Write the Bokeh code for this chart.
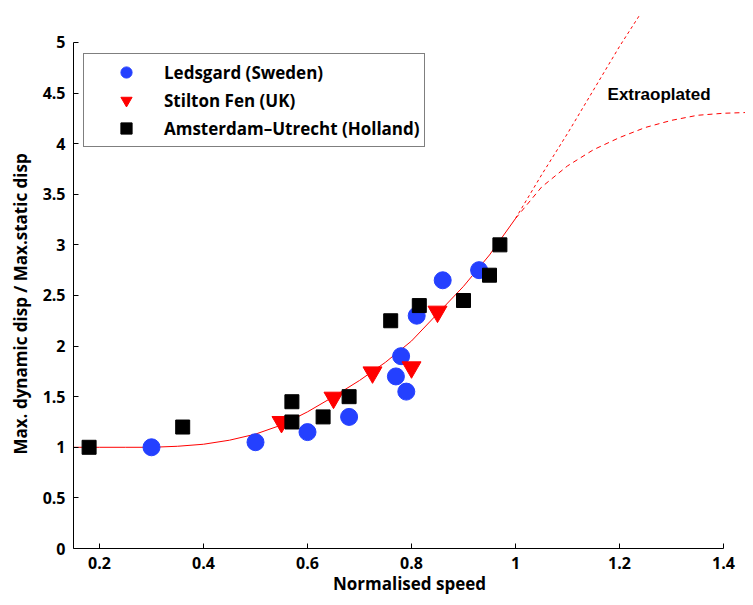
from bokeh.plotting import figure
from bokeh.models import Range1d, Legend, LegendItem, Label, FixedTicker, Title
from bokeh.embed import file_html
from bokeh.resources import INLINE

# ---- data ----
ledsgard_x = [0.30, 0.50, 0.60, 0.68, 0.77, 0.78, 0.79, 0.81, 0.86, 0.93]
ledsgard_y = [1.00, 1.05, 1.15, 1.30, 1.70, 1.90, 1.55, 2.30, 2.65, 2.75]

stilton_x = [0.55, 0.65, 0.725, 0.80, 0.85]
stilton_y = [1.25, 1.49, 1.74, 1.79, 2.34]

amsterdam_x = [0.18, 0.36, 0.57, 0.57, 0.63, 0.68, 0.76, 0.815, 0.90, 0.95, 0.97]
amsterdam_y = [1.00, 1.20, 1.45, 1.25, 1.30, 1.50, 2.25, 2.40, 2.45, 2.70, 3.00]

fit_x = [0.15, 0.20, 0.25, 0.30, 0.35, 0.40, 0.45, 0.50, 0.55, 0.60,
         0.65, 0.70, 0.75, 0.80, 0.85, 0.90, 0.95, 1.00]
fit_y = [1.00, 1.00, 1.00, 1.00, 1.01, 1.03, 1.07, 1.13, 1.22, 1.35,
         1.50, 1.66, 1.84, 2.05, 2.32, 2.59, 2.90, 3.26]

ext_upper_x = [1.00, 1.05, 1.10, 1.15, 1.20, 1.24]
ext_upper_y = [3.26, 3.69, 4.10, 4.53, 4.96, 5.28]

ext_lower_x = [1.00, 1.05, 1.10, 1.15, 1.20, 1.25, 1.30, 1.35, 1.40, 1.46]
ext_lower_y = [3.26, 3.57, 3.78, 3.94, 4.06, 4.16, 4.23, 4.28, 4.30, 4.31]

x_ticks = [0.2, 0.4, 0.6, 0.8, 1, 1.2, 1.4]
x_tick_labels = ["0.2", "0.4", "0.6", "0.8", "1", "1.2", "1.4"]
y_ticks = [0, 0.5, 1, 1.5, 2, 2.5, 3, 3.5, 4, 4.5, 5]
y_tick_labels = ["0", "0.5", "1", "1.5", "2", "2.5", "3", "3.5", "4", "4.5", "5"]

series_names = ["Ledsgard (Sweden)", "Stilton Fen (UK)", "Amsterdam\u2013Utrecht (Holland)"]
x_label = "Normalised speed"
y_label = "Max. dynamic disp / Max.static disp"
note_text = "Extraoplated"

FONT = "Open Sans"

p = figure(width=745, height=597, output_backend="svg", toolbar_location=None,
           x_range=Range1d(0.15, 1.4423), y_range=Range1d(0, 5.335),
           min_border_left=73, min_border_right=0, min_border_top=8, min_border_bottom=40)
p.outline_line_color = None
p.xgrid.visible = False
p.ygrid.visible = False
p.background_fill_color = "white"

# fitted curve and extrapolations
p.line(fit_x, fit_y, line_color="#ff0000", line_width=1)
p.line(ext_upper_x, ext_upper_y, line_color="#ff0000", line_width=1, line_dash="3 3")
p.line(ext_lower_x, ext_lower_y, line_color="#ff0000", line_width=1, line_dash="5 4")

r1 = p.scatter(ledsgard_x, ledsgard_y, marker="circle", size=17,
               fill_color="#2440ff", line_color="#2440ff")
r2 = p.scatter(stilton_x, stilton_y, marker="inverted_triangle", size=19,
               fill_color="#ff0000", line_color="#ff0000")
r3 = p.scatter(amsterdam_x, amsterdam_y, marker="square", size=14,
               fill_color="black", line_color="black")

legend = Legend(items=[LegendItem(label=series_names[0], renderers=[r1]),
                       LegendItem(label=series_names[1], renderers=[r2]),
                       LegendItem(label=series_names[2], renderers=[r3])],
                location=(10, 401), orientation="vertical",
                border_line_color="black", border_line_width=1,
                background_fill_color="white", background_fill_alpha=1.0,
                padding=4, spacing=0, glyph_height=28, glyph_width=76,
                label_standoff=0, label_height=28,
                label_text_font=FONT, label_text_font_size="17px",
                label_text_font_style="bold", label_text_color="black",
                margin=0)
p.add_layout(legend)

p.add_layout(Label(x=1.177, y=4.49, text=note_text, text_font="Liberation Sans",
                   text_font_size="17px", text_font_style="bold",
                   text_baseline="middle", text_align="left", text_color="black"))

for ax, ticks, labels, bnds in ((p.xaxis[0], x_ticks, x_tick_labels, (0.15, 1.4)),
                                (p.yaxis[0], y_ticks, y_tick_labels, (0, 5))):
    ax.ticker = FixedTicker(ticks=ticks)
    ax.major_label_overrides = dict(zip(ticks, labels))
    ax.bounds = bnds
    ax.axis_line_color = "black"
    ax.axis_line_width = 1
    ax.major_tick_line_color = "black"
    ax.major_tick_in = 5
    ax.major_tick_out = 0
    ax.minor_tick_line_color = None
    ax.major_label_text_font = FONT
    ax.major_label_text_font_size = "16px"
    ax.major_label_text_font_style = "bold"
    ax.major_label_text_color = "black"
    ax.axis_label_text_font = FONT
    ax.axis_label_text_font_size = "17px"
    ax.axis_label_text_font_style = "bold"
    ax.axis_label_text_color = "black"

p.xaxis[0].axis_label = x_label
p.xaxis[0].major_label_standoff = 8
p.xaxis[0].axis_label_standoff = 0
p.yaxis[0].major_label_standoff = 8

# y-axis title placed in the left panel so it can sit where the reference has it
p.add_layout(Title(text=y_label, align="left", offset=94, vertical_align="middle",
                   standoff=14, text_font=FONT, text_font_size="17px",
                   text_font_style="bold", text_color="black"), "left")

open("out.html", "w").write(file_html(p, INLINE))
